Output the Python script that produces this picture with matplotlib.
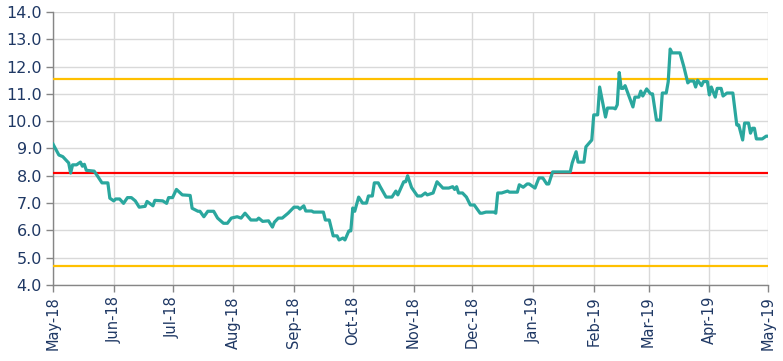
import matplotlib
matplotlib.use("Agg")
import matplotlib.pyplot as plt
import matplotlib.dates as mdates
import pandas as pd
from matplotlib.ticker import FormatStrFormatter

dates = [
    "2018-05-01", "2018-05-04", "2018-05-06", "2018-05-08", "2018-05-09", "2018-05-10",
    "2018-05-11", "2018-05-13", "2018-05-15", "2018-05-16", "2018-05-17", "2018-05-18",
    "2018-05-22", "2018-05-24", "2018-05-26", "2018-05-29", "2018-05-30", "2018-06-01",
    "2018-06-02", "2018-06-04", "2018-06-06", "2018-06-08", "2018-06-10", "2018-06-12",
    "2018-06-14", "2018-06-17", "2018-06-18", "2018-06-21", "2018-06-22", "2018-06-26",
    "2018-06-28", "2018-06-29", "2018-07-01", "2018-07-03", "2018-07-06", "2018-07-10",
    "2018-07-11", "2018-07-14", "2018-07-15", "2018-07-17", "2018-07-19", "2018-07-22",
    "2018-07-24", "2018-07-27", "2018-07-29", "2018-07-31", "2018-08-03", "2018-08-05",
    "2018-08-07", "2018-08-10", "2018-08-13", "2018-08-14", "2018-08-16", "2018-08-19",
    "2018-08-21", "2018-08-22", "2018-08-24", "2018-08-26", "2018-08-29", "2018-09-01",
    "2018-09-03", "2018-09-04", "2018-09-06", "2018-09-07", "2018-09-10", "2018-09-11",
    "2018-09-16", "2018-09-17", "2018-09-19", "2018-09-21", "2018-09-23", "2018-09-24",
    "2018-09-26", "2018-09-27", "2018-09-29", "2018-09-30", "2018-10-01", "2018-10-02",
    "2018-10-04", "2018-10-06", "2018-10-08", "2018-10-09", "2018-10-11", "2018-10-12",
    "2018-10-14", "2018-10-15", "2018-10-18", "2018-10-21", "2018-10-23", "2018-10-24",
    "2018-10-27", "2018-10-28", "2018-10-29", "2018-10-31", "2018-11-03", "2018-11-05",
    "2018-11-07", "2018-11-08", "2018-11-11", "2018-11-13", "2018-11-16", "2018-11-19",
    "2018-11-21", "2018-11-22", "2018-11-23", "2018-11-24", "2018-11-26", "2018-11-28",
    "2018-11-30", "2018-12-02", "2018-12-05", "2018-12-06", "2018-12-08", "2018-12-12",
    "2018-12-13", "2018-12-14", "2018-12-16", "2018-12-19", "2018-12-20", "2018-12-24",
    "2018-12-25", "2018-12-27", "2018-12-29", "2018-12-30", "2019-01-02", "2019-01-04",
    "2019-01-06", "2019-01-08", "2019-01-09", "2019-01-11", "2019-01-20", "2019-01-21",
    "2019-01-23", "2019-01-24", "2019-01-27", "2019-01-28", "2019-01-31", "2019-02-01",
    "2019-02-03", "2019-02-04", "2019-02-07", "2019-02-08", "2019-02-11", "2019-02-12",
    "2019-02-13", "2019-02-14", "2019-02-15", "2019-02-16", "2019-02-17", "2019-02-21",
    "2019-02-22", "2019-02-24", "2019-02-25", "2019-02-26", "2019-02-28", "2019-03-02",
    "2019-03-03", "2019-03-05", "2019-03-07", "2019-03-08", "2019-03-10", "2019-03-11",
    "2019-03-12", "2019-03-13", "2019-03-17", "2019-03-19", "2019-03-21", "2019-03-22",
    "2019-03-24", "2019-03-25", "2019-03-26", "2019-03-28", "2019-03-29", "2019-03-31",
    "2019-04-01", "2019-04-02", "2019-04-04", "2019-04-05", "2019-04-07", "2019-04-08",
    "2019-04-10", "2019-04-13", "2019-04-15", "2019-04-16", "2019-04-18", "2019-04-19",
    "2019-04-21", "2019-04-22", "2019-04-23", "2019-04-24", "2019-04-25", "2019-04-28",
    "2019-04-30", "2019-05-01",
]

values = [
    9.16, 8.76, 8.70, 8.55, 8.47, 8.10,
    8.40, 8.40, 8.50, 8.35, 8.42, 8.20,
    8.17, 7.96, 7.74, 7.74, 7.18, 7.08,
    7.15, 7.15, 6.99, 7.20, 7.20, 7.08,
    6.85, 6.88, 7.06, 6.90, 7.10, 7.08,
    6.99, 7.20, 7.20, 7.50, 7.30, 7.28,
    6.81, 6.70, 6.70, 6.50, 6.70, 6.70,
    6.45, 6.26, 6.26, 6.45, 6.50, 6.45,
    6.63, 6.38, 6.38, 6.45, 6.33, 6.35,
    6.12, 6.30, 6.45, 6.45, 6.63, 6.85,
    6.85, 6.78, 6.90, 6.71, 6.71, 6.67,
    6.67, 6.38, 6.38, 5.80, 5.80, 5.65,
    5.72, 5.65, 5.98, 5.98, 6.82, 6.70,
    7.22, 7.00, 7.00, 7.26, 7.26, 7.74,
    7.74, 7.60, 7.22, 7.22, 7.44, 7.30,
    7.78, 7.78, 8.00, 7.57, 7.26, 7.26,
    7.37, 7.30, 7.37, 7.78, 7.55, 7.55,
    7.60, 7.50, 7.60, 7.37, 7.37, 7.22,
    6.93, 6.93, 6.63, 6.63, 6.67, 6.67,
    6.63, 7.37, 7.37, 7.44, 7.40, 7.40,
    7.67, 7.58, 7.70, 7.70, 7.55, 7.92,
    7.92, 7.70, 7.70, 8.14, 8.14, 8.47,
    8.88, 8.50, 8.50, 9.06, 9.31, 10.23,
    10.23, 11.25, 10.15, 10.48, 10.48, 10.45,
    10.60, 11.78, 11.20, 11.20, 11.30, 10.52,
    10.88, 10.88, 11.10, 10.92, 11.18, 11.00,
    11.00, 10.04, 10.04, 11.03, 11.03, 11.44,
    12.64, 12.50, 12.50, 11.99, 11.40, 11.47,
    11.47, 11.25, 11.50, 11.30, 11.45, 11.45,
    10.96, 11.25, 10.88, 11.20, 11.20, 10.92,
    11.03, 11.03, 9.86, 9.86, 9.31, 9.93,
    9.93, 9.56, 9.74, 9.74, 9.35, 9.35,
    9.45, 9.45,
]

mean_level = 8.1
upper_band = 11.55
lower_band = 4.7

y_ticks = [4, 5, 6, 7, 8, 9, 10, 11, 12, 13, 14]

x = pd.to_datetime(dates)

fig = plt.figure(figsize=(7.83, 3.61), dpi=100)
ax = fig.add_axes([0.0677, 0.2105, 0.9133, 0.7565])

label_color = "#1F3864"
grid_color = "#D9D9D9"
axis_color = "#868686"

ax.axhline(upper_band, color="#FFC000", lw=1.6, zorder=3)
ax.axhline(lower_band, color="#FFC000", lw=1.6, zorder=3)
ax.axhline(mean_level, color="#FF0000", lw=1.6, zorder=3)
ax.plot(x, values, color="#2AA79E", lw=2.3, zorder=4, solid_joinstyle="round")

ax.set_ylim(4, 14)
ax.set_yticks(y_ticks)
ax.yaxis.set_major_formatter(FormatStrFormatter("%.1f"))
ax.set_xlim(pd.Timestamp("2018-05-01"), pd.Timestamp("2019-05-01"))
ax.xaxis.set_major_locator(mdates.MonthLocator())
ax.xaxis.set_major_formatter(mdates.DateFormatter("%b-%y"))

ax.grid(True, color=grid_color, lw=1.0, zorder=0)
ax.set_axisbelow(True)
for s in ["top", "right"]:
    ax.spines[s].set_visible(False)
for s in ["left", "bottom"]:
    ax.spines[s].set_color(axis_color)
    ax.spines[s].set_linewidth(1.0)

ax.tick_params(axis="y", colors=axis_color, labelcolor=label_color, labelsize=11.5,
               length=5, width=1.0, pad=3)
ax.tick_params(axis="x", colors=axis_color, labelcolor=label_color, labelsize=10.5,
               length=5, width=1.0, pad=3, labelrotation=90)

fig.savefig("out.png", dpi=100)
